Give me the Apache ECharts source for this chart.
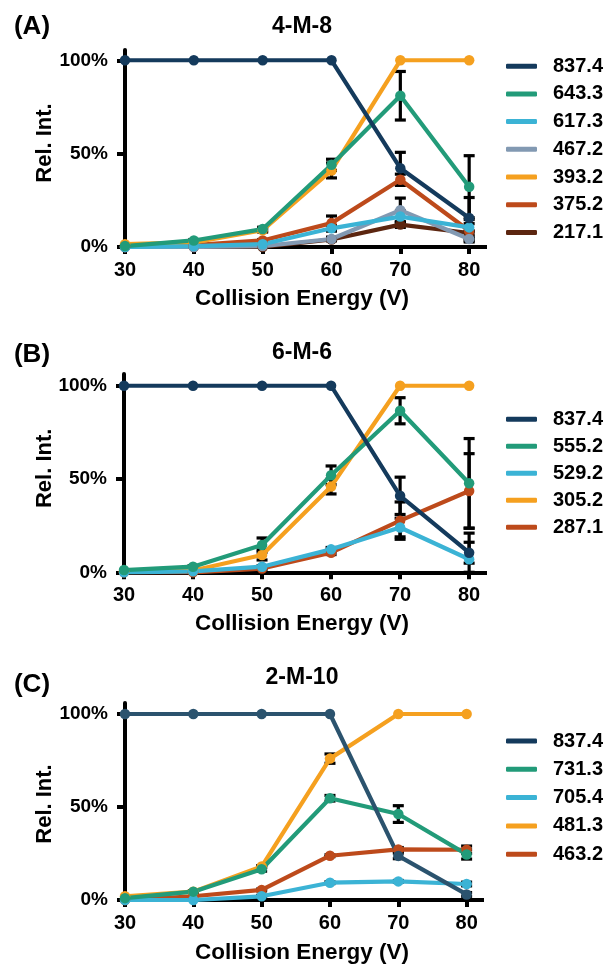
<!DOCTYPE html>
<html>
<head>
<meta charset="utf-8">
<script src="https://cdn.jsdelivr.net/npm/echarts@6/dist/echarts.min.js"></script>
<style>
  html, body { margin: 0; padding: 0; background: #fff; }
  #chart { width: 606px; height: 966px; }
</style>
</head>
<body>
<div id="chart"></div>
<script>
// Collision energies (V) and relative-intensity ticks shared by all panels
const energies = [30, 40, 50, 60, 70, 80];
const yTicks = [0, 50, 100];

// Fragment colours
const cNavy = '#143a5c';
const cGreen = '#229b79';
const cBlue = '#3bb3d5';
const cGrey = '#8299b2';
const cOrange = '#f5a01f';
const cRust = '#bd4a1b';
const cBrown = '#5c2610';

// (A) 4-M-8 : mean relative intensity (%) and error
const a8374 = [100, 100, 100, 100, 42.2, 15.5];
const a8374Err = [0, 0, 0, 0, 8.5, 11];
const a6433 = [0.5, 3.5, 9.6, 44, 81, 32.3];
const a6433Err = [0, 0.5, 1, 3, 13, 16.6];
const a6173 = [0, 0.5, 1.5, 10, 16.3, 10.5];
const a6173Err = [0, 0, 0.5, 1.5, 3, 2];
const a4672 = [0, 0, 0.5, 4.3, 19.7, 4.3];
const a4672Err = [0, 0, 0, 1, 6.5, 1];
const a3932 = [1.5, 2.5, 9, 41, 100, 100];
const a3932Err = [0, 0, 1, 4, 0, 0];
const a3752 = [0, 1, 3.5, 12.8, 36, 8.7];
const a3752Err = [0, 0, 0.5, 3.8, 3, 6];
const a2171 = [0, 0, 0, 4, 12, 7.5];
const a2171Err = [0, 0, 0, 0.5, 1.5, 1];

// (B) 6-M-6
const b8374 = [100, 100, 100, 100, 41, 10.5];
const b8374Err = [0, 0, 0, 0, 10, 5.6];
const b5552 = [1.2, 3, 14.6, 52, 86.6, 47.7];
const b5552Err = [0, 0.5, 3.8, 5, 7, 24];
const b5292 = [0, 0.5, 3, 12.3, 24, 7];
const b5292Err = [0, 0, 0.5, 1, 5, 14];
const b3052 = [0.5, 1, 9.3, 46, 100, 100];
const b3052Err = [0, 0, 2.7, 4, 0, 0];
const b2871 = [0, 0, 2, 10.5, 27.7, 43.6];
const b2871Err = [0, 0, 0.5, 1, 10, 20];

// (C) 2-M-10
const c8374 = [100, 100, 100, 100, 23.7, 3];
const c8374Err = [0, 0, 0, 0, 1.5, 1];
const c7313 = [1, 4.5, 16.5, 54.7, 46.2, 24.5];
const c7313Err = [0, 0.5, 1, 1.5, 4.5, 2.5];
const c7054 = [0, 0, 2, 9.3, 10, 8.6];
const c7054Err = [0, 0, 0.5, 0.5, 0.5, 1];
const c4813 = [2, 4.5, 18, 76, 100, 100];
const c4813Err = [0, 0, 0.5, 2.5, 0, 0];
const c4632 = [0, 2, 5.4, 23.8, 27.2, 27];
const c4632Err = [0, 0, 0.5, 0.5, 1, 2];

// Panel definitions: legend order top to bottom
const panels = [
  {
    letter: '(A)', title: '4-M-8',
    grid: { left: 125, top: 50, width: 360, height: 197 }, xMax: 82.3, yMax: 105.5,
    letterY: 27, titleY: 27, xNameY: 298.5, yNameY: 143,
    legendTop: 56.2, legendGap: 7.7,
    series: [
      { name: '837.4', color: cNavy, values: a8374, err: a8374Err },
      { name: '643.3', color: cGreen, values: a6433, err: a6433Err },
      { name: '617.3', color: cBlue, values: a6173, err: a6173Err },
      { name: '467.2', color: cGrey, values: a4672, err: a4672Err },
      { name: '393.2', color: cOrange, values: a3932, err: a3932Err },
      { name: '375.2', color: cRust, values: a3752, err: a3752Err },
      { name: '217.1', color: cBrown, values: a2171, err: a2171Err }
    ]
  },
  {
    letter: '(B)', title: '6-M-6',
    grid: { left: 124, top: 374, width: 361, height: 198.3 }, xMax: 82.3, yMax: 106.3,
    letterY: 355, titleY: 353, xNameY: 624, yNameY: 468.3,
    legendTop: 409.3, legendGap: 7,
    series: [
      { name: '837.4', color: cNavy, values: b8374, err: b8374Err },
      { name: '555.2', color: cGreen, values: b5552, err: b5552Err },
      { name: '529.2', color: cBlue, values: b5292, err: b5292Err },
      { name: '305.2', color: cOrange, values: b3052, err: b3052Err },
      { name: '287.1', color: cRust, values: b2871, err: b2871Err }
    ]
  },
  {
    letter: '(C)', title: '2-M-10',
    grid: { left: 125, top: 703, width: 357, height: 197 }, xMax: 82.25, yMax: 105.9,
    letterY: 684.5, titleY: 678, xNameY: 952.5, yNameY: 804,
    legendTop: 731, legendGap: 8.3,
    series: [
      { name: '837.4', color: '#2b536e', values: c8374, err: c8374Err },
      { name: '731.3', color: cGreen, values: c7313, err: c7313Err },
      { name: '705.4', color: cBlue, values: c7054, err: c7054Err },
      { name: '481.3', color: cOrange, values: c4813, err: c4813Err },
      { name: '463.2', color: cRust, values: c4632, err: c4632Err }
    ]
  }
];

const FONT = 'Liberation Sans, Arial, sans-serif';

const grids = [], xAxes = [], yAxes = [], legends = [], series = [], graphics = [];

panels.forEach((p, i) => {
  grids.push(Object.assign({ containLabel: false }, p.grid));

  xAxes.push({
    type: 'value', gridIndex: i, min: 30, max: p.xMax,
    axisLine: { show: true, lineStyle: { color: '#000', width: 4, cap: 'square' } },
    axisTick: { show: true, customValues: energies, length: 7, lineStyle: { color: '#000', width: 4 } },
    axisLabel: {
      customValues: energies, color: '#000', fontSize: 20, fontWeight: 'bold',
      fontFamily: FONT, margin: 13
    },
    splitLine: { show: false }
  });

  yAxes.push({
    type: 'value', gridIndex: i, min: 0, max: p.yMax,
    axisLine: { show: true, lineStyle: { color: '#000', width: 4 } },
    axisTick: { show: true, customValues: yTicks, length: 8, lineStyle: { color: '#000', width: 4 } },
    axisLabel: {
      customValues: yTicks, color: '#000', fontSize: 19, fontWeight: 'bold',
      fontFamily: FONT, margin: 17, formatter: v => v + '%'
    },
    splitLine: { show: false }
  });

  legends.push({
    orient: 'vertical', left: 506, top: p.legendTop, padding: 0,
    data: p.series.map(s => s.name),
    icon: 'roundRect', itemWidth: 31, itemHeight: 5, itemGap: p.legendGap,
    selectedMode: false,
    textStyle: {
      color: '#000', fontSize: 20, fontWeight: 'bold', fontFamily: FONT,
      lineHeight: 20, padding: [0, 0, 0, 11]
    }
  });

  // Error bars (mean ± error) drawn beneath the lines
  const errData = [];
  p.series.forEach(s => {
    energies.forEach((e, k) => {
      if (s.err[k] > 0) errData.push([e, s.values[k], s.err[k]]);
    });
  });
  series.push({
    type: 'custom', xAxisIndex: i, yAxisIndex: i, z: 1, silent: true,
    data: errData, encode: { x: 0, y: 1 }, clip: false,
    renderItem: (params, api) => {
      const x = api.value(0), y = api.value(1), e = api.value(2);
      const hi = api.coord([x, y + e]);
      const lo = api.coord([x, Math.max(0, y - e)]);
      const hw = 5.5;
      const st = { stroke: '#000', lineWidth: 3.2 };
      return {
        type: 'group',
        children: [
          { type: 'line', shape: { x1: hi[0], y1: hi[1], x2: lo[0], y2: lo[1] }, style: st },
          { type: 'line', shape: { x1: hi[0] - hw, y1: hi[1], x2: hi[0] + hw, y2: hi[1] }, style: st },
          { type: 'line', shape: { x1: lo[0] - hw, y1: lo[1], x2: lo[0] + hw, y2: lo[1] }, style: st }
        ]
      };
    }
  });

  // Lines: drawn bottom-up so the first legend entry ends on top
  p.series.slice().reverse().forEach(s => {
    series.push({
      type: 'line', name: s.name, xAxisIndex: i, yAxisIndex: i, z: 2,
      data: energies.map((e, k) => [e, s.values[k]]),
      symbol: 'circle', symbolSize: 10.5, showSymbol: true,
      lineStyle: { color: s.color, width: 4.2 },
      itemStyle: { color: s.color },
      emphasis: { disabled: true }
    });
  });

  const txt = (text, x, y, size, extra) => Object.assign({
    type: 'text', x: x, y: y, silent: true,
    style: {
      text: text, fontSize: size, fontWeight: 'bold', fontFamily: FONT, fill: '#000',
      align: 'center', verticalAlign: 'middle'
    }
  }, extra || {});

  graphics.push(txt(p.letter, 32, p.letterY, 26));
  graphics.push(txt(p.title, 302, p.titleY, 23));
  graphics.push(txt('Collision Energy (V)', 302, p.xNameY, 22.5));
  graphics.push(txt('Rel. Int.', 45, p.yNameY, 22, { rotation: Math.PI / 2 }));
});

const chart = echarts.init(document.getElementById('chart'), null, { renderer: 'canvas' });
chart.setOption({
  animation: false,
  backgroundColor: '#fff',
  grid: grids,
  xAxis: xAxes,
  yAxis: yAxes,
  legend: legends,
  series: series,
  graphic: graphics
});
</script>
</body>
</html>
